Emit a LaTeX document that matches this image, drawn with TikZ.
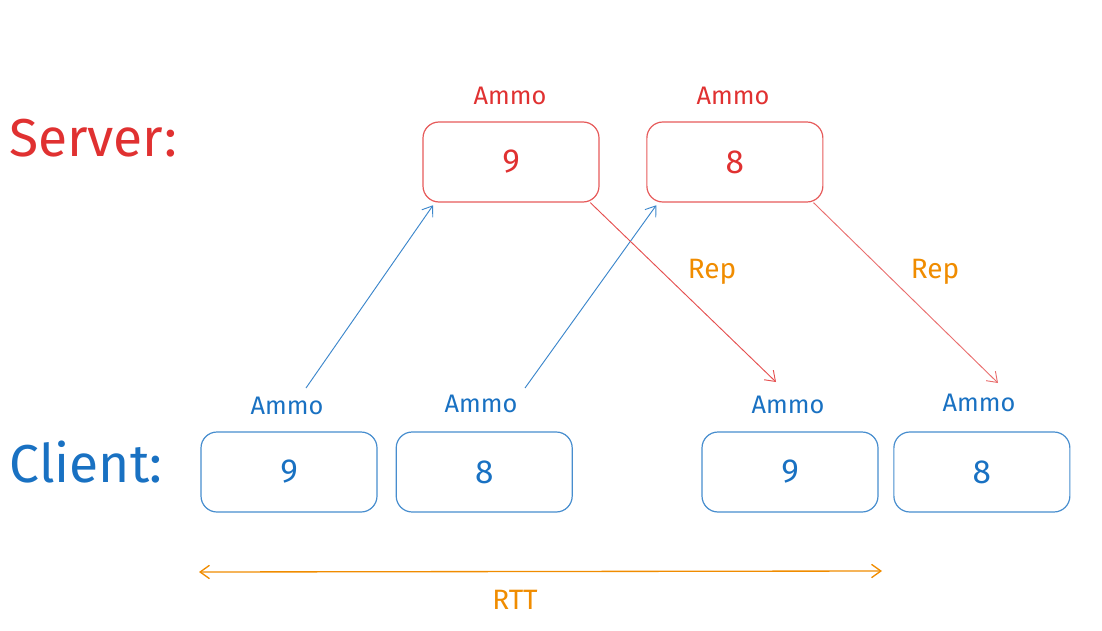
\documentclass[tikz,border=0pt]{standalone}
\usepackage{fontspec}
\setmainfont{Fira Sans}
\usetikzlibrary{positioning,arrows.meta}

\definecolor{srvred}{HTML}{E03131}
\definecolor{cliblue}{HTML}{1971C2}
\definecolor{rttorange}{HTML}{F08C00}

\tikzset{
  ammobox/.style={rectangle, rounded corners=12pt, draw, line width=0.9pt,
    minimum width=132pt, minimum height=60pt, font=\fontsize{25}{27}\selectfont},
  ammolbl/.style={font=\fontsize{19}{22}\selectfont},
  replbl/.style={font=\fontsize{21}{24}\selectfont, text=rttorange},
  side/.style={font=\fontsize{40}{44}\selectfont},
}

\begin{document}
\begin{tikzpicture}[x=0.75pt, y=-0.75pt, >={Straight Barb[length=7pt,width=10pt]}, line width=0.7pt]
    \useasboundingbox (0,0) rectangle (1102,631);

    % row titles
    \node [side, text=srvred](srv) at (93,138){Server:};
    \node [side, text=cliblue](cli) at (86,462){Client:};

    % server side
    \node [ammobox, draw=srvred!80, text=srvred](s9) at (511,162){9};
    \node [ammobox, draw=srvred!80, text=srvred](s8) [right=35pt of s9]{8};
    \node [ammolbl, text=srvred](s9l) at (510,96){Ammo};
    \node [ammolbl, text=srvred](s8l) at (733,96){Ammo};

    % client side
    \node [ammobox, draw=cliblue!80, text=cliblue](c9) at (289,472){9};
    \node [ammobox, draw=cliblue!80, text=cliblue](c8) [right=13.5pt of c9]{8};
    \node [ammobox, draw=cliblue!80, text=cliblue](c9b) at (790,472){9};
    \node [ammobox, draw=cliblue!80, text=cliblue](c8b) [right=11pt of c9b]{8};
    \node [ammolbl, text=cliblue](c9l) at (287,406){Ammo};
    \node [ammolbl, text=cliblue](c8l) at (481,404){Ammo};
    \node [ammolbl, text=cliblue](c9bl) at (788,405){Ammo};
    \node [ammolbl, text=cliblue](c8bl) at (979,403){Ammo};

    % free ends
    \coordinate (c9out) at (306,388);
    \coordinate (c8out) at (525,388);
    \coordinate (c9in) at (776,382);
    \coordinate (c8in) at (998,383);
    \coordinate (rttL) at (199,572);
    \coordinate (rttR) at (882,571);

    % requests and replies
    \draw [->, cliblue!85] (c9out) -- ([xshift=8pt, yshift=-2pt]s9.south west);
    \draw [->, cliblue!85] (c8out) -- ([xshift=7.5pt, yshift=-2pt]s8.south west);
    \draw [->, srvred!85] ([xshift=-7pt]s9.south east) -- (c9in);
    \draw [->, srvred!70] ([xshift=-7.5pt]s8.south east) -- (c8in);

    \node [replbl](rep1) at (712,272){Rep};
    \node [replbl](rep2) at (935,272){Rep};

    % round trip
    \draw [<->, rttorange, line width=1pt] (rttL) -- (rttR);
    \node [replbl](rtt) at (515,600){RTT};
\end{tikzpicture}
\end{document}
